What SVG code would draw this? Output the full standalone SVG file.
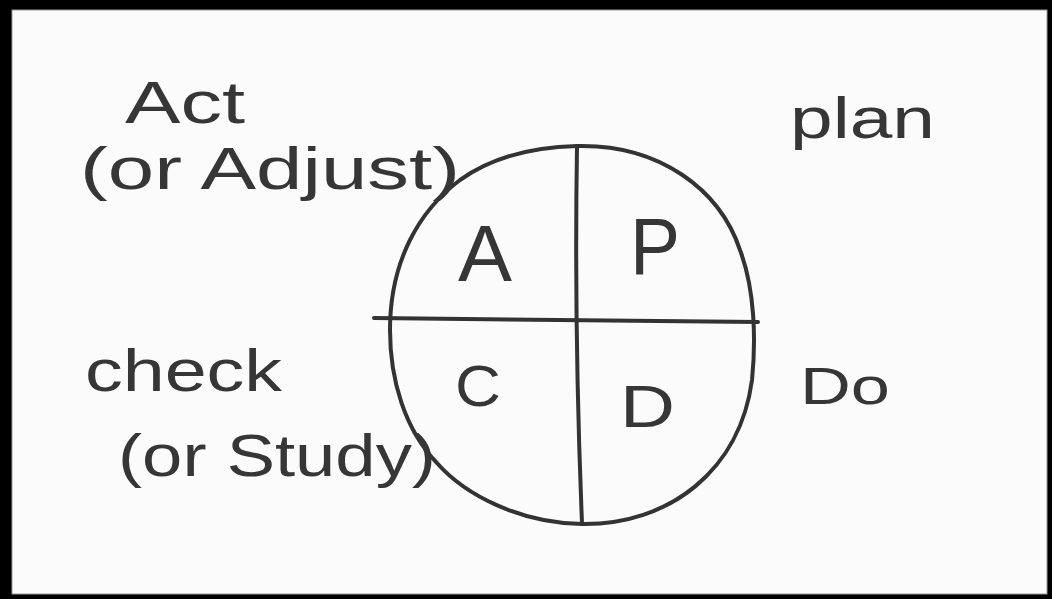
<svg xmlns="http://www.w3.org/2000/svg" width="1052" height="599" viewBox="0 0 1052 599">
<style>
.ink{fill:none;stroke:#333;stroke-width:4;stroke-linecap:round;stroke-linejoin:round}
.hand{font-family:"Liberation Sans","DejaVu Sans",sans-serif;fill:#363636}
</style>
<rect x="0" y="0" width="1052" height="599" fill="#000"/>
<rect x="12" y="10" width="1035" height="584" fill="#fbfbfb" stroke="#999" stroke-width="1"/>
<g id="cycle">
<path class="ink" d="M 577,146 C 660,144 720,190 740,250 C 755,290 756,340 752,380 C 740,470 670,525 582,524 C 520,523 465,495 437,463 C 405,430 390,380 390,330 C 390,260 420,210 460,180 C 495,155 535,147 577,146 Z"/>
</g>
<g id="connectors">
<path class="ink" d="M 577,146 Q 574,330 582,523"/>
<path class="ink" d="M 374,318 L 758,322"/>
</g>
<g id="quadrant-A"><text class="hand" x="458" y="281" font-size="80" textLength="54" lengthAdjust="spacingAndGlyphs">A</text></g>
<g id="quadrant-P"><text class="hand" x="630" y="274" font-size="80" textLength="50" lengthAdjust="spacingAndGlyphs">P</text></g>
<g id="quadrant-C"><text class="hand" x="455" y="406" font-size="58" textLength="46" lengthAdjust="spacingAndGlyphs">C</text></g>
<g id="quadrant-D"><text class="hand" x="620" y="427" font-size="60" textLength="55" lengthAdjust="spacingAndGlyphs">D</text></g>
<g id="label-act">
<text class="hand" x="125" y="123" font-size="60" textLength="120" lengthAdjust="spacingAndGlyphs">Act</text>
<text class="hand" x="80" y="189" font-size="60" textLength="380" lengthAdjust="spacingAndGlyphs">(or Adjust)</text>
</g>
<g id="label-plan"><text class="hand" x="790" y="138" font-size="58" textLength="145" lengthAdjust="spacingAndGlyphs">plan</text></g>
<g id="label-check">
<text class="hand" x="85" y="391" font-size="60" textLength="197" lengthAdjust="spacingAndGlyphs">check</text>
<text class="hand" x="118" y="476" font-size="60" textLength="318" lengthAdjust="spacingAndGlyphs">(or Study)</text>
</g>
<g id="label-do"><text class="hand" x="800" y="404" font-size="52" textLength="90" lengthAdjust="spacingAndGlyphs">Do</text></g>
</svg>
